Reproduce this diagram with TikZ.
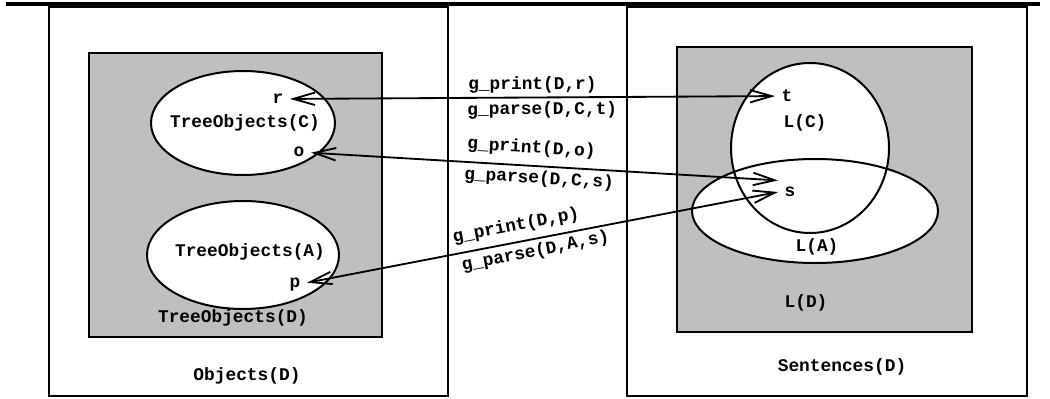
\documentclass[tikz,border=0pt]{standalone}
\usepackage{fontspec}
\newfontfamily\codefont{Liberation Mono}
\definecolor{panelgray}{RGB}{191,191,191}
\usetikzlibrary{shapes.geometric, arrows.meta}

\begin{document}
\begin{tikzpicture}[x=0.6pt, y=-0.6pt,
        panel/.style={draw, line width=1.2pt},
        graybox/.style={draw, fill=panelgray, line width=1.2pt},
        set/.style={ellipse, draw, fill=white, line width=1.2pt, inner sep=0pt},
        txt/.style={font=\codefont\bfseries\fontsize{10.7}{12}\selectfont},
        pnt/.style={txt, inner sep=1pt, outer sep=3pt},
        lbl/.style={txt, sloped, inner sep=2pt},
        arr/.style={{Straight Barb[length=13pt,width=7.5pt]}-{Straight Barb[length=13pt,width=7.5pt]}, line width=1.1pt}
    ]
        \useasboundingbox (0,0) rectangle (1050,398);
        \draw[line width=2.2pt] (6,4) -- (1040,4);

        % Objects side
        \draw[panel] (49,7) rectangle (448,396);
        \draw[graybox] (89,53) rectangle (382,337);
        \node[set, minimum width=110.4pt, minimum height=62.4pt] (treeC) at (243,123) {};
        \node[set, minimum width=115.2pt, minimum height=64.8pt] (treeA) at (243,255) {};

        % Sentences side
        \draw[panel] (627,7) rectangle (1027,396);
        \draw[graybox] (677,47) rectangle (972,332);
        \node[set, draw=none, minimum width=147.6pt, minimum height=62.4pt] (langA) at (815,211) {};
        \node[set, minimum width=94.8pt, minimum height=102pt] (langC) at (810,148) {};
        \draw[line width=1.2pt] (langA.center) ellipse [x radius=73.8pt, y radius=31.2pt];

        % Set names
        \node[txt] (tC) at (245,123) {TreeObjects(C)};
        \node[txt] (tA) at (250,252) {TreeObjects(A)};
        \node[txt] (tD) at (233,318) {TreeObjects(D)};
        \node[txt] (objD) at (247,376) {Objects(D)};
        \node[txt] (lC) at (805,123) {L(C)};
        \node[txt] (lA) at (817,247) {L(A)};
        \node[txt] (lD) at (806,303) {L(D)};
        \node[txt] (sentD) at (842,367) {Sentences(D)};

        % Elements
        \node[pnt] (r) at (278,99) {r};
        \node[pnt] (o) at (299,152) {o};
        \node[pnt] (p) at (295,285) {p};
        \node[pnt] (t) at (787,96) {t};
        \node[pnt] (s) at (790,192) {s};

        \draw[arr] (r) -- (t) node[lbl, above, pos=.5] {g\_print(D,r)} node[lbl, below, pos=.52] {g\_parse(D,C,t)};
        \draw[arr] (o) -- (s.north west) node[lbl, above=3pt, pos=.47] {g\_print(D,o)} node[lbl, below, pos=.49] {g\_parse(D,C,s)};
        \draw[arr] (p) -- (s.west) node[lbl, above=2pt, pos=.45] {g\_print(D,p)} node[lbl, below=0pt, pos=.48] {g\_parse(D,A,s)};
    \end{tikzpicture}
\end{document}
